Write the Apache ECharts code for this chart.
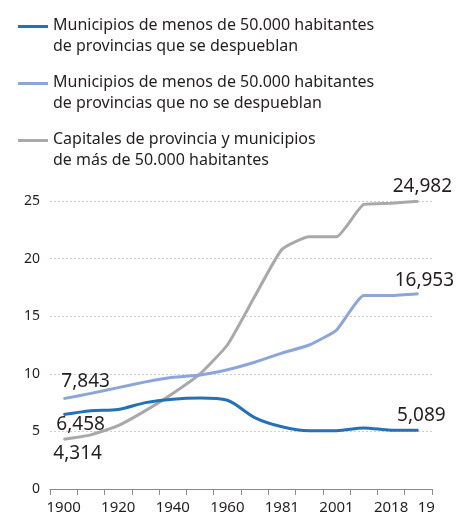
<!DOCTYPE html>
<html>
<head>
<meta charset="utf-8">
<script src="https://cdn.jsdelivr.net/npm/echarts@6/dist/echarts.min.js"></script>
<style>
html,body{margin:0;padding:0;background:#fff;}
#chart{width:457px;height:518px;}
</style>
</head>
<body>
<div id="chart"></div>
<script>
const years = ['1900','1910','1920','1930','1940','1950','1960','1970','1981','1991','2001','2011','2018','2019'];
const despueblan = [6.458, 6.8, 6.9, 7.5, 7.8, 7.9, 7.7, 6.2, 5.4, 5.06, 5.06, 5.3, 5.1, 5.089];
const noDespueblan = [7.843, 8.3, 8.8, 9.3, 9.7, 9.9, 10.35, 11.0, 11.8, 12.5, 13.8, 16.8, 16.8, 16.953];
const capitales = [4.314, 4.7, 5.5, 6.8, 8.3, 10.0, 12.5, 16.7, 20.8, 21.9, 21.9, 24.7, 24.8, 24.982];
const names = [
  'Municipios de menos de 50.000 habitantes\nde provincias que se despueblan',
  'Municipios de menos de 50.000 habitantes\nde provincias que no se despueblan',
  'Capitales de provincia y municipios\nde más de 50.000 habitantes'
];
const yTicks = [0, 5, 10, 15, 20, 25];

const FONT = '"Noto Sans", "Open Sans", sans-serif';
const fmt = v => v.toFixed(3).replace('.', ',');

function buildData(arr, firstOffset, lastOffset) {
  return arr.map((v, i) => {
    const item = { value: v };
    if (i === 0 || i === arr.length - 1) {
      item.label = {
        show: true,
        position: 'inside',
        offset: i === 0 ? firstOffset : lastOffset,
        formatter: p => fmt(p.value),
        fontSize: 19,
        color: '#231f20',
        fontFamily: FONT
      };
    }
    return item;
  });
}

const legendIcon = 'path://M0,0L30,0L30,3L0,3Z M0,21.9L0.05,21.9L0.05,22L0,22Z';

const chart = echarts.init(document.getElementById('chart'), null, { renderer: 'canvas' });
chart.setOption({
  animation: false,
  backgroundColor: '#fff',
  legend: {
    orient: 'vertical',
    left: 13,
    top: 10,
    itemWidth: 30,
    itemHeight: 22,
    itemGap: 15,
    icon: legendIcon,
    selectedMode: false,
    textStyle: { fontSize: 16, lineHeight: 21, color: '#231f20', fontFamily: FONT },
    data: names
  },
  grid: { left: 50, right: 25, top: 201, bottom: 29, containLabel: false },
  xAxis: {
    type: 'category',
    data: years,
    boundaryGap: true,
    axisLine: { show: true, lineStyle: { color: '#8c8c8c', width: 1 } },
    axisTick: { show: true, interval: 0, length: 6, lineStyle: { color: '#8c8c8c' } },
    axisLabel: {
      interval: (i) => i % 2 === 0 || i === years.length - 1,
      margin: 11,
      fontSize: 15,
      color: '#231f20',
      fontFamily: FONT,
      formatter: (v, i) => i === years.length - 1 ? '{a|' + v.slice(2) + '}' : v,
      rich: { a: { fontSize: 15, color: '#231f20', fontFamily: FONT, padding: [0, 0, 0, 16] } }
    },
    splitLine: { show: false }
  },
  yAxis: {
    type: 'value',
    min: yTicks[0],
    max: yTicks[yTicks.length - 1],
    interval: 5,
    axisLine: { show: false },
    axisTick: { show: false },
    axisLabel: { fontSize: 14, color: '#231f20', fontFamily: FONT, margin: 10 },
    splitLine: { show: true, lineStyle: { color: '#cfcfcf', type: [2, 2], width: 1 } }
  },
  series: [
    {
      name: names[0], type: 'line', data: buildData(despueblan, [17, 10], [3, -15]),
      symbol: 'circle', symbolSize: 1, showSymbol: true, showAllSymbol: true, smooth: 0.3, z: 4,
      lineStyle: { color: '#2371b9', width: 3 }, itemStyle: { color: '#2371b9' }
    },
    {
      name: names[1], type: 'line', data: buildData(noDespueblan, [22, -17], [6, -13]),
      symbol: 'circle', symbolSize: 1, showSymbol: true, showAllSymbol: true, smooth: 0.15, z: 3,
      lineStyle: { color: '#8ca6dc', width: 3 }, itemStyle: { color: '#8ca6dc' }
    },
    {
      name: names[2], type: 'line', data: buildData(capitales, [14, 14], [4, -15]),
      symbol: 'circle', symbolSize: 1, showSymbol: true, showAllSymbol: true, smooth: 0.15, z: 2,
      lineStyle: { color: '#a9a9a9', width: 3 }, itemStyle: { color: '#a9a9a9' }
    }
  ]
});
</script>
</body>
</html>
